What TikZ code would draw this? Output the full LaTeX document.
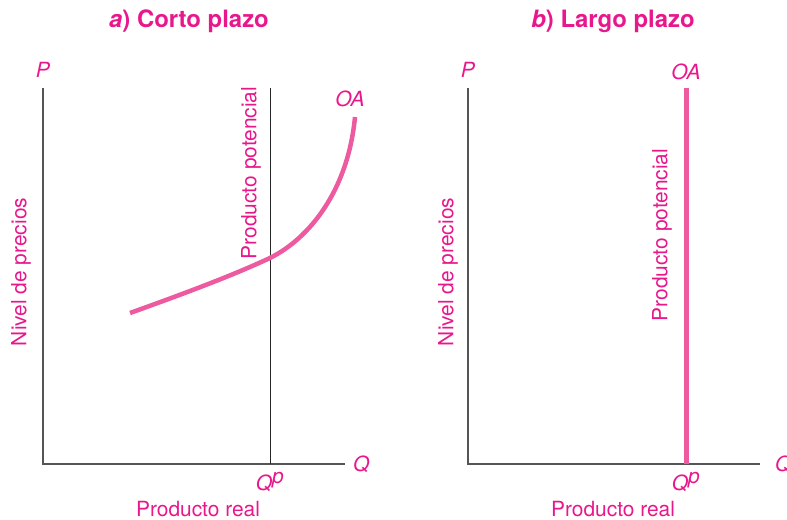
\documentclass[tikz,border=0pt]{standalone}
\usepackage{fontspec}
\setmainfont{TeX Gyre Heros}
\definecolor{magtext}{HTML}{E8178C}
\definecolor{curvepink}{HTML}{EE5AA0}
\definecolor{axisgray}{HTML}{555555}
\begin{document}
\begin{tikzpicture}[x=1bp,y=1bp,
  every node/.style={font=\fontsize{21}{23}\selectfont,text=magtext,inner sep=0pt},
  axis/.style={draw=axisgray,line width=1.3bp},
  potline/.style={draw=black!85,line width=1bp},
  oacurve/.style={draw=curvepink,line width=4.5bp},
  paneltitle/.style={font=\fontsize{24}{26}\selectfont\bfseries},
  vlabel/.style={rotate=90}]
\useasboundingbox (0,0) rectangle (787,520);
% panel a: short run, upward sloping OA
\coordinate (a-top) at (43,432);
\coordinate (a-o) at (43,56);
\coordinate (a-end) at (345,56);
\coordinate (a-qp) at (270,56);
\coordinate (a-pt) at (270,432);
\draw[axis] (a-top) -- (a-o) -- (a-end);
\draw[potline] (a-qp) -- (a-pt);
\coordinate (a-s) at (130,207);
\coordinate (a-m) at (270,262);
\coordinate (a-e) at (355,403);
\draw[oacurve] (a-s) .. controls (200,232) and (240,248) .. (a-m)
  .. controls (310,282) and (348,330) .. (a-e);
\node (a-title) at (189,499) [paneltitle] {\textit{a}) Corto plazo};
\node (a-p) at (43,450) {\textit{P}};
\node (a-q) [anchor=west] at (353,56) {\textit{Q}};
\node (a-qplab) at (270,38) {\textit{Q}$^{\textit{p}}$};
\node (a-oa) at (350,421) {\textit{OA}};
\node (a-potlab) [vlabel] at (251,347) {Producto potencial};
\node (a-nivel) [vlabel] at (21,248) {Nivel de precios};
\node (a-real) at (198,11) {Producto real};
% panel b: long run, vertical OA at potential output
\coordinate (b-top) at (468,432);
\coordinate (b-o) at (468,56);
\coordinate (b-end) at (760,56);
\coordinate (b-qp) at (686,56);
\coordinate (b-pt) at (686,432);
\draw[axis] (b-top) -- (b-o) -- (b-end);
\draw[oacurve,line width=5bp] (b-qp) -- (b-pt);
\node (b-title) at (613,499) [paneltitle] {\textit{b}) Largo plazo};
\node (b-p) at (468,450) {\textit{P}};
\node (b-q) [anchor=west] at (775,56) {\textit{Q}};
\node (b-qplab) at (686,38) {\textit{Q}$^{\textit{p}}$};
\node (b-oa) at (686,448) {\textit{OA}};
\node (b-potlab) [vlabel] at (662,285) {Producto potencial};
\node (b-nivel) [vlabel] at (448,248) {Nivel de precios};
\node (b-real) at (613,11) {Producto real};
\end{tikzpicture}
\end{document}
